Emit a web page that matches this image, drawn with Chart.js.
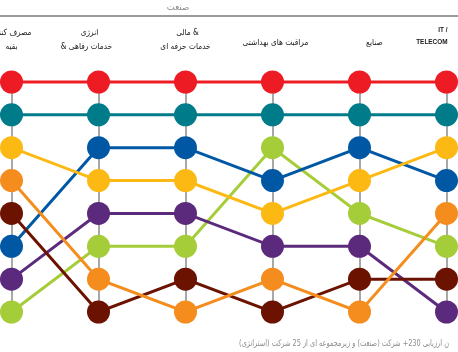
<!DOCTYPE html>
<html>
<head>
<meta charset="utf-8">
<script src="https://cdn.jsdelivr.net/npm/chart.js@4/dist/chart.umd.min.js"></script>
<style>
html,body{margin:0;padding:0;background:#fff;overflow:hidden;}
#wrap{width:458px;height:352px;position:relative;}
</style>
</head>
<body>
<div id="wrap"><canvas id="c" width="458" height="352"></canvas></div>
<script>
// ---- data ----
const titleText = 'صنعت';
const categories = [
  ['مصرف کننده', 'بقیه'],
  ['انرژی', '& خدمات رفاهی'],
  ['مالی &', 'خدمات حرفه ای'],
  ['مراقبت های بهداشتی'],
  ['صنایع'],
  ['IT /', 'TELECOM']
];
const footerText = 'ن ارزیابی 230+ شرکت (صنعت) و زیرمجموعه ای از 25 شرکت (استراتژی)';
// rank (1 = top) of each series in each column
const red    = [1, 1, 1, 1, 1, 1];
const teal   = [2, 2, 2, 2, 2, 2];
const yellow = [3, 4, 4, 5, 4, 3];
const orange = [4, 7, 8, 7, 8, 5];
const maroon = [5, 8, 7, 8, 7, 7];
const blue   = [6, 3, 3, 4, 3, 4];
const purple = [7, 5, 5, 6, 6, 8];
const green  = [8, 6, 6, 3, 5, 6];
const rankTicks = [1, 2, 3, 4, 5, 6, 7, 8];

// ---- styles ----
const seriesList = [
  {name: 'red', data: red, color: '#ED1C24'},
  {name: 'teal', data: teal, color: '#007B8A'},
  {name: 'yellow', data: yellow, color: '#FDB913'},
  {name: 'orange', data: orange, color: '#F58D1E'},
  {name: 'maroon', data: maroon, color: '#6B1200'},
  {name: 'blue', data: blue, color: '#0058A5'},
  {name: 'purple', data: purple, color: '#5C2A7C'},
  {name: 'green', data: green, color: '#A5CD39'}
];
// header placement (style only): per line x offset from the column, alignment, y
const headerStyle = [
  {dxs: [20, 0], aligns: ['right', 'center'], ys: [33, 47]},
  {dxs: [-9, -12], aligns: ['center', 'center'], ys: [33, 47]},
  {dxs: [2, 0], aligns: ['center', 'center'], ys: [33, 47]},
  {dxs: [3], aligns: ['center'], ys: [43]},
  {dxs: [15], aligns: ['center'], ys: [43]},
  {dxs: [1, 1], aligns: ['right', 'right'], ys: [30, 42]}
];
const AR_FONT = '"DejaVu Sans", sans-serif';
const LAT_FONT = '"Liberation Sans", Arial, sans-serif';
const isLatin = s => /^[\x00-\x7F]*$/.test(s);

// draw text horizontally condensed by sx
function drawText(ctx, text, x, y, align, sx) {
  ctx.save();
  ctx.translate(x, y);
  ctx.scale(sx, 1);
  ctx.textAlign = align;
  ctx.fillText(text, 0, 0);
  ctx.restore();
}

const decor = {
  id: 'decor',
  afterDraw(chart) {
    const ctx = chart.ctx;
    const x = chart.scales.x;
    ctx.save();
    ctx.textBaseline = 'middle';
    // title + rule
    ctx.fillStyle = '#8a8a8a';
    ctx.font = '9px ' + AR_FONT;
    drawText(ctx, titleText, 178, 8, 'center', 0.95);
    ctx.strokeStyle = '#7a7a7a';
    ctx.lineWidth = 1.5;
    ctx.beginPath();
    ctx.moveTo(0, 16);
    ctx.lineTo(chart.width, 16);
    ctx.stroke();
    // column headers
    ctx.fillStyle = '#1a1a1a';
    categories.forEach((lines, i) => {
      const st = headerStyle[i];
      const px = x.getPixelForValue(i);
      lines.forEach((ln, j) => {
        const lat = isLatin(ln);
        ctx.font = lat ? 'bold 8px ' + LAT_FONT : '8.5px ' + AR_FONT;
        drawText(ctx, ln, px + st.dxs[j], st.ys[j], st.aligns[j], lat ? 0.8 : 0.87);
      });
    });
    // footer
    ctx.fillStyle = '#8c8c8c';
    ctx.font = '9px ' + AR_FONT;
    drawText(ctx, footerText, 449, 344, 'right', 0.73);
    ctx.restore();
  }
};

new Chart(document.getElementById('c'), {
  type: 'line',
  data: {
    labels: categories.map(c => c.join(' ')),
    datasets: seriesList.map(s => ({
      label: s.name,
      data: s.data,
      borderColor: s.color,
      backgroundColor: s.color,
      pointBackgroundColor: s.color,
      pointBorderWidth: 0,
      pointRadius: 11.5,
      pointHoverRadius: 11.5,
      borderWidth: 3,
      tension: 0,
      fill: false,
      clip: false
    }))
  },
  options: {
    responsive: false,
    animation: false,
    devicePixelRatio: 1,
    layout: {padding: {left: 6, right: 8, top: 82, bottom: 40}},
    plugins: {legend: {display: false}, title: {display: false}, tooltip: {enabled: false}},
    scales: {
      x: {
        type: 'category',
        position: 'top',
        offset: false,
        display: true,
        grid: {display: true, drawOnChartArea: true, drawTicks: false, color: '#a8a8a8', lineWidth: 2},
        border: {display: false},
        ticks: {display: false}
      },
      y: {
        display: false,
        reverse: true,
        min: rankTicks[0],
        max: rankTicks[rankTicks.length - 1],
        afterBuildTicks: s => { s.ticks = rankTicks.map(v => ({value: v})); }
      }
    }
  },
  plugins: [decor]
});
</script>
</body>
</html>
